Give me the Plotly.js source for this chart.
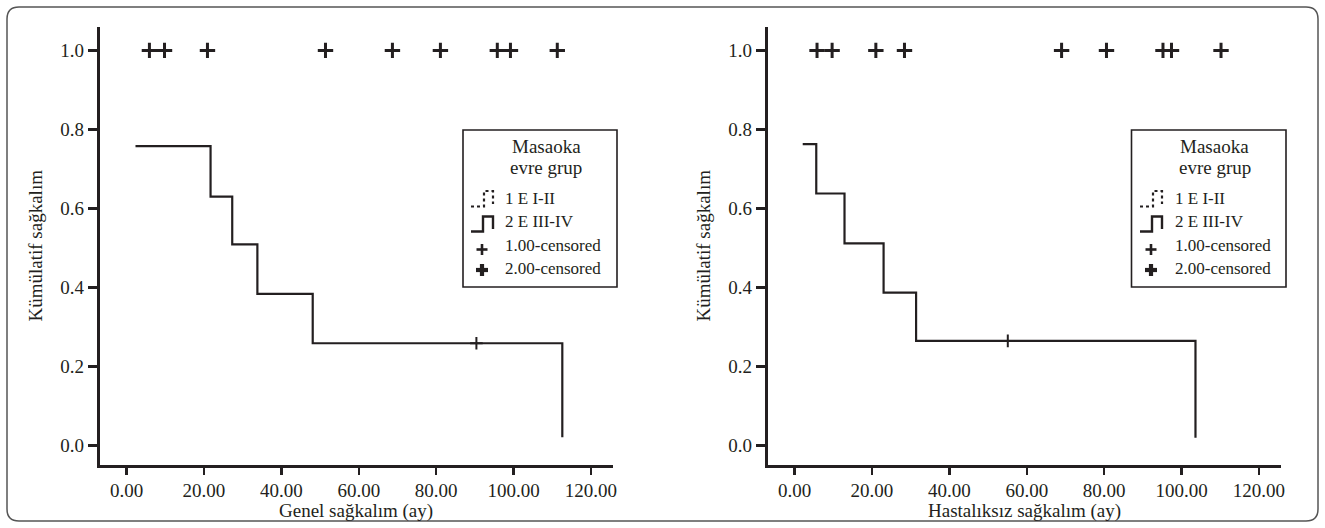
<!DOCTYPE html>
<html>
<head>
<meta charset="utf-8">
<script src="https://cdn.plot.ly/plotly-3.0.1.min.js"></script>
<style>
html,body{margin:0;padding:0;background:#fff;}
#chart{width:1325px;height:528px;}
</style>
</head>
<body>
<div id="chart"></div>
<script>
// ---------- data ----------
const xTickVals = [0, 20, 40, 60, 80, 100, 120];
const xTickText = ["0.00", "20.00", "40.00", "60.00", "80.00", "100.00", "120.00"];
const yTickVals = [0, 0.2, 0.4, 0.6, 0.8, 1.0];
const yTickText = ["0.0", "0.2", "0.4", "0.6", "0.8", "1.0"];

// Genel sağkalım (overall survival), group 2 (E III-IV) step curve
const osStepTime = [2.3, 21.7, 27.3, 33.8, 48.1, 112.6];
const osStepSurv = [0.758, 0.630, 0.509, 0.384, 0.259, 0.021];
const osCensG2Time = [90.4];
const osCensG2Surv = [0.259];
const osCensG1Time = [5.9, 9.8, 20.9, 51.4, 68.7, 81.1, 95.8, 99.2, 111.3];
const osCensG1Surv = [1, 1, 1, 1, 1, 1, 1, 1, 1];

// Hastalıksız sağkalım (disease-free survival)
const dfsStepTime = [2.1, 5.6, 12.9, 23.0, 31.4, 103.6];
const dfsStepSurv = [0.763, 0.638, 0.512, 0.387, 0.265, 0.020];
const dfsCensG2Time = [55.1];
const dfsCensG2Surv = [0.265];
const dfsCensG1Time = [5.8, 9.7, 21.0, 28.4, 69.0, 80.6, 95.2, 97.4, 110.2];
const dfsCensG1Surv = [1, 1, 1, 1, 1, 1, 1, 1, 1];

const legendTitle = ["Masaoka", "evre grup"];
const legendItems = ["1 E I-II", "2 E III-IV", "1.00-censored", "2.00-censored"];
const xTitles = ["Genel sağkalım (ay)", "Hastalıksız sağkalım (ay)"];
const yTitle = "Kümülatif sağkalım";

// ---------- layout helpers ----------
const W = 1325, H = 528;
const INK = "#231f20";
const FONT = "Liberation Serif";
const px = x => x / W;
const py = y => 1 - y / H;

const xRange = [-7.0, 125.7];
const yRange = [-0.049, 1.060];

function stepTrace(t, s, xa, ya) {
  return {x: t, y: s, xaxis: xa, yaxis: ya, type: "scatter", mode: "lines",
    line: {shape: "hv", color: INK, width: 2.2}, hoverinfo: "skip", showlegend: false};
}
function censTrace(t, s, xa, ya, size, lw) {
  return {x: t, y: s, xaxis: xa, yaxis: ya, type: "scatter", mode: "markers",
    marker: {symbol: "cross-thin", size: size, color: INK, line: {color: INK, width: lw}},
    hoverinfo: "skip", showlegend: false, cliponaxis: false};
}

const traces = [
  stepTrace(osStepTime, osStepSurv, "x", "y"),
  censTrace(osCensG2Time, osCensG2Surv, "x", "y", 9, 2),
  censTrace(osCensG1Time, osCensG1Surv, "x", "y", 11, 3),
  stepTrace(dfsStepTime, dfsStepSurv, "x2", "y2"),
  censTrace(dfsCensG2Time, dfsCensG2Surv, "x2", "y2", 9, 2),
  censTrace(dfsCensG1Time, dfsCensG1Surv, "x2", "y2", 11, 3)
];

function xaxisDef(domPx) {
  return {domain: [px(domPx[0]), px(domPx[1])], range: xRange, tickvals: xTickVals, ticktext: xTickText,
    ticks: "outside", ticklen: 7, tickwidth: 2.5, tickcolor: INK, showline: true, linecolor: INK, linewidth: 2.6,
    showgrid: false, zeroline: false, tickfont: {family: FONT, size: 19, color: INK}, fixedrange: true};
}
function yaxisDef(anchor) {
  return {domain: [py(465), py(26.7)], range: yRange, tickvals: yTickVals, ticktext: yTickText, anchor: anchor,
    ticks: "outside", ticklen: 9, tickwidth: 2.5, tickcolor: INK, showline: true, linecolor: INK, linewidth: 2.6,
    showgrid: false, zeroline: false, tickfont: {family: FONT, size: 19, color: INK}, fixedrange: true};
}

const panels = [
  {x0: 99.5, x1: 613, lg: [463, 617], iconX: 471, textX: 503},
  {x0: 767.5, x1: 1281, lg: [1131.5, 1286], iconX: 1140, textX: 1173}
];

const shapes = [];
const annotations = [];

// outer rounded frame
(function(){
  const l = 7, t = 7, r = 1318, b = 521, rad = 12;
  const P = (x, y) => `${px(x)},${py(y)}`;
  const path = `M ${P(l+rad,t)} L ${P(r-rad,t)} Q ${P(r,t)} ${P(r,t+rad)} L ${P(r,b-rad)} Q ${P(r,b)} ${P(r-rad,b)} L ${P(l+rad,b)} Q ${P(l,b)} ${P(l,b-rad)} L ${P(l,t+rad)} Q ${P(l,t)} ${P(l+rad,t)} Z`;
  shapes.push({type: "path", xref: "paper", yref: "paper", path: path, line: {color: "#555", width: 1.5}});
})();

panels.forEach((p, i) => {
  const P = (x, y) => `${px(x)},${py(y)}`;
  // legend box
  shapes.push({type: "rect", xref: "paper", yref: "paper", x0: px(p.lg[0]), x1: px(p.lg[1]), y0: py(287), y1: py(130),
    line: {color: INK, width: 1.6}, fillcolor: "rgba(0,0,0,0)"});
  const cx = (p.lg[0] + p.lg[1]) / 2;
  annotations.push({xref: "paper", yref: "paper", x: px(cx + 6), y: py(146), text: legendTitle[0], showarrow: false,
    xanchor: "center", yanchor: "middle", font: {family: FONT, size: 19, color: INK}});
  annotations.push({xref: "paper", yref: "paper", x: px(cx + 6), y: py(168), text: legendTitle[1], showarrow: false,
    xanchor: "center", yanchor: "middle", font: {family: FONT, size: 19, color: INK}});
  const rowsY = [198, 221.5, 245, 268.5];
  rowsY.forEach((yy, k) => {
    annotations.push({xref: "paper", yref: "paper", x: px(p.textX), y: py(yy), text: legendItems[k], showarrow: false,
      xanchor: "left", yanchor: "middle", font: {family: FONT, size: 17, color: INK}});
  });
  const ix = p.iconX;
  // dotted step icon
  shapes.push({type: "path", xref: "paper", yref: "paper",
    path: `M ${P(ix, 206.5)} L ${P(ix+13, 206.5)} L ${P(ix+13, 191)} L ${P(ix+22, 191)} L ${P(ix+22, 204)}`,
    line: {color: INK, width: 2.2, dash: "dot"}});
  // solid step icon
  shapes.push({type: "path", xref: "paper", yref: "paper",
    path: `M ${P(ix, 231.5)} L ${P(ix+12, 231.5)} L ${P(ix+12, 216.5)} L ${P(ix+22, 216.5)} L ${P(ix+22, 229)}`,
    line: {color: INK, width: 2.4}});
  // censored plus icons
  const pxc = ix + 11;
  [[249.5, 5.5, 2.6], [270, 6, 4.2]].forEach(([yy, r, w]) => {
    shapes.push({type: "line", xref: "paper", yref: "paper", x0: px(pxc - r), x1: px(pxc + r), y0: py(yy), y1: py(yy), line: {color: INK, width: w}});
    shapes.push({type: "line", xref: "paper", yref: "paper", x0: px(pxc), x1: px(pxc), y0: py(yy - r), y1: py(yy + r), line: {color: INK, width: w}});
  });
  // axis titles
  annotations.push({xref: "paper", yref: "paper", x: px((p.x0 + p.x1) / 2), y: py(511), text: xTitles[i], showarrow: false,
    xanchor: "center", yanchor: "middle", font: {family: FONT, size: 19, color: INK}});
  annotations.push({xref: "paper", yref: "paper", x: px(p.x0 - 64), y: py(246), text: yTitle, showarrow: false, textangle: -90,
    xanchor: "center", yanchor: "middle", font: {family: FONT, size: 19, color: INK}});
});

const layout = {
  width: W, height: H,
  margin: {l: 0, r: 0, t: 0, b: 0},
  paper_bgcolor: "#fff", plot_bgcolor: "#fff",
  showlegend: false,
  xaxis: Object.assign(xaxisDef([panels[0].x0, panels[0].x1]), {anchor: "y"}),
  yaxis: yaxisDef("x"),
  xaxis2: Object.assign(xaxisDef([panels[1].x0, panels[1].x1]), {anchor: "y2"}),
  yaxis2: yaxisDef("x2"),
  shapes: shapes,
  annotations: annotations
};

Plotly.newPlot("chart", traces, layout, {staticPlot: true, displayModeBar: false});
</script>
</body>
</html>
